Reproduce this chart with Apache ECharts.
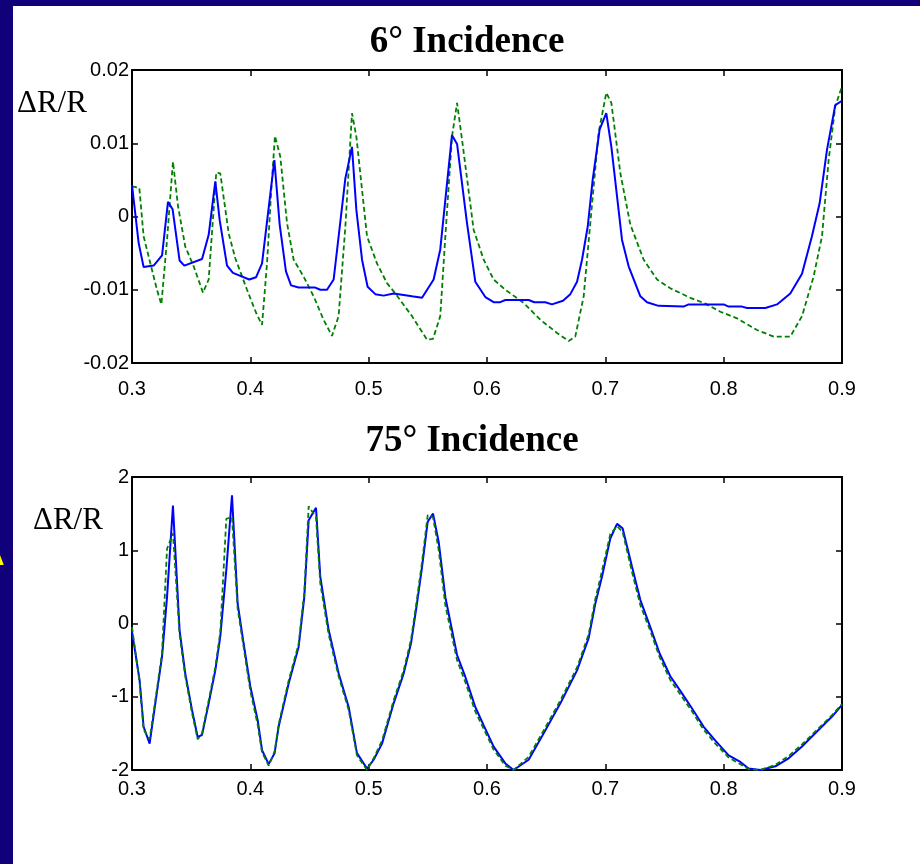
<!DOCTYPE html>
<html>
<head>
<meta charset="utf-8">
<script src="https://cdn.jsdelivr.net/npm/echarts@6/dist/echarts.min.js"></script>
<style>
html,body{margin:0;padding:0;background:#fff;}
#chart{width:920px;height:864px;}
</style>
</head>
<body>
<div id="chart"></div>
<script>
// ---------- DATA ----------
const titles = ['6\u00b0 Incidence', '75\u00b0 Incidence'];
const yLabel = '\u0394R/R';
const xTicks = [0.3, 0.4, 0.5, 0.6, 0.7, 0.8, 0.9];
const yTicksTop = [-0.02, -0.01, 0, 0.01, 0.02];
const yTicksBottom = [-2, -1, 0, 1, 2];

// 6 deg incidence: blue solid
const blue6 = [[0.3,0.0043],[0.3056,-0.0036],[0.3098,-0.0069],[0.3183,-0.0067],[0.3254,-0.0053],[0.3304,0.0020],[0.3343,0.0010],[0.3402,-0.0060],[0.3442,-0.0067],[0.3592,-0.0058],[0.3648,-0.0025],[0.3704,0.0048],[0.3741,-0.0005],[0.3803,-0.0067],[0.3853,-0.0077],[0.3991,-0.0086],[0.4048,-0.0083],[0.4099,-0.0064],[0.4203,0.0077],[0.4248,-0.0011],[0.4301,-0.0075],[0.4344,-0.0094],[0.4408,-0.0097],[0.4549,-0.0097],[0.4591,-0.0100],[0.4648,-0.0100],[0.4704,-0.0086],[0.4803,0.0052],[0.4859,0.0095],[0.4896,0.0009],[0.4944,-0.0059],[0.4991,-0.0096],[0.5056,-0.0106],[0.5126,-0.0108],[0.5211,-0.0105],[0.5366,-0.0109],[0.5451,-0.0111],[0.5549,-0.0086],[0.5605,-0.0045],[0.5662,0.0045],[0.5704,0.0111],[0.5747,0.0099],[0.5831,-0.0009],[0.5901,-0.0089],[0.5986,-0.0110],[0.6056,-0.0117],[0.6112,-0.0117],[0.6155,-0.0114],[0.6352,-0.0114],[0.6400,-0.0117],[0.6493,-0.0117],[0.6549,-0.0120],[0.6642,-0.0115],[0.6704,-0.0106],[0.6761,-0.0089],[0.6803,-0.0059],[0.6851,-0.0014],[0.6893,0.0050],[0.6952,0.0119],[0.7008,0.0141],[0.7051,0.0095],[0.7141,-0.0032],[0.7197,-0.0068],[0.7296,-0.0109],[0.7352,-0.0117],[0.7450,-0.0122],[0.7661,-0.0123],[0.7704,-0.0120],[0.8000,-0.0120],[0.8042,-0.0123],[0.8155,-0.0123],[0.8197,-0.0125],[0.8352,-0.0125],[0.8451,-0.0120],[0.8563,-0.0105],[0.8662,-0.0078],[0.8746,-0.0027],[0.8811,0.0018],[0.8873,0.0091],[0.8943,0.0152],[0.9,0.0158]];

// 6 deg incidence: green dashed
const green6 = [[0.3,0.0041],[0.3062,0.0039],[0.3098,-0.0027],[0.3155,-0.0064],[0.3211,-0.0100],[0.3248,-0.0120],[0.3296,-0.0032],[0.3346,0.0075],[0.3389,0.0014],[0.3450,-0.0041],[0.3521,-0.0068],[0.3600,-0.0104],[0.3648,-0.0086],[0.3712,0.0060],[0.3746,0.0059],[0.3817,-0.0023],[0.3873,-0.0057],[0.3972,-0.0100],[0.4050,-0.0132],[0.4099,-0.0148],[0.4141,-0.0064],[0.4177,0.0036],[0.4208,0.0110],[0.4253,0.0082],[0.4310,-0.0009],[0.4366,-0.0059],[0.4450,-0.0082],[0.4535,-0.0109],[0.4619,-0.0141],[0.4690,-0.0163],[0.4746,-0.0136],[0.4803,-0.0014],[0.4859,0.0141],[0.4896,0.0109],[0.4986,-0.0027],[0.5070,-0.0064],[0.5155,-0.0091],[0.5225,-0.0105],[0.5366,-0.0136],[0.5493,-0.0168],[0.5544,-0.0167],[0.5605,-0.0136],[0.5648,-0.0027],[0.5704,0.0109],[0.5747,0.0155],[0.5789,0.0105],[0.5887,-0.0018],[0.5972,-0.0059],[0.6056,-0.0086],[0.6155,-0.0100],[0.6310,-0.0118],[0.6451,-0.0141],[0.6592,-0.0159],[0.6690,-0.0170],[0.6746,-0.0164],[0.6817,-0.0109],[0.6873,-0.0009],[0.6943,0.0114],[0.7008,0.0169],[0.7051,0.0155],[0.7127,0.0059],[0.7211,-0.0011],[0.7324,-0.0059],[0.7437,-0.0086],[0.7549,-0.0098],[0.7718,-0.0111],[0.7845,-0.0119],[0.7972,-0.0130],[0.8113,-0.0139],[0.8282,-0.0155],[0.8423,-0.0164],[0.8563,-0.0164],[0.8662,-0.0136],[0.8760,-0.0082],[0.8831,-0.0027],[0.8887,0.0077],[0.8943,0.0150],[0.9,0.0178]];

// 75 deg incidence: blue solid
const blue75 = [[0.3,-0.11],[0.3064,-0.77],[0.3098,-1.41],[0.3149,-1.64],[0.3197,-1.09],[0.3254,-0.45],[0.3296,0.36],[0.3346,1.61],[0.3402,-0.09],[0.3450,-0.68],[0.3507,-1.18],[0.3555,-1.55],[0.3592,-1.52],[0.3648,-1.09],[0.3704,-0.64],[0.3746,-0.18],[0.3797,0.73],[0.3845,1.75],[0.3893,0.27],[0.3943,-0.27],[0.4000,-0.86],[0.4062,-1.32],[0.4099,-1.73],[0.4155,-1.92],[0.4205,-1.77],[0.4239,-1.41],[0.4324,-0.82],[0.4408,-0.32],[0.4456,0.36],[0.4493,1.41],[0.4555,1.58],[0.4591,0.64],[0.4662,-0.09],[0.4746,-0.68],[0.4831,-1.14],[0.4901,-1.77],[0.4986,-1.98],[0.5042,-1.86],[0.5113,-1.64],[0.5211,-1.09],[0.5296,-0.68],[0.5358,-0.27],[0.5408,0.27],[0.5451,0.77],[0.5499,1.39],[0.5544,1.50],[0.5592,1.11],[0.5648,0.36],[0.5747,-0.43],[0.5817,-0.73],[0.5901,-1.14],[0.5972,-1.39],[0.6056,-1.68],[0.6155,-1.91],[0.6225,-2.00],[0.6352,-1.86],[0.6479,-1.50],[0.6620,-1.09],[0.6761,-0.64],[0.6859,-0.20],[0.6915,0.27],[0.6972,0.64],[0.7042,1.16],[0.7099,1.36],[0.7146,1.30],[0.7226,0.77],[0.7296,0.32],[0.7380,-0.05],[0.7459,-0.41],[0.7549,-0.72],[0.7634,-0.92],[0.7733,-1.16],[0.7831,-1.41],[0.7930,-1.60],[0.8042,-1.80],[0.8141,-1.89],[0.8211,-1.98],[0.8310,-2.00],[0.8437,-1.95],[0.8549,-1.84],[0.8662,-1.68],[0.8803,-1.45],[0.8916,-1.27],[0.9,-1.11]];

// 75 deg incidence: green dashed
const green75 = [[0.3,-0.05],[0.3064,-0.80],[0.3098,-1.45],[0.3149,-1.58],[0.3197,-1.05],[0.3254,-0.40],[0.3296,1.02],[0.3346,1.23],[0.3402,-0.15],[0.3450,-0.72],[0.3507,-1.22],[0.3555,-1.58],[0.3592,-1.50],[0.3648,-1.05],[0.3704,-0.60],[0.3746,-0.12],[0.3797,1.43],[0.3845,1.45],[0.3893,0.20],[0.3943,-0.32],[0.4000,-0.92],[0.4062,-1.38],[0.4099,-1.76],[0.4155,-1.94],[0.4205,-1.75],[0.4239,-1.38],[0.4324,-0.78],[0.4408,-0.28],[0.4456,0.42],[0.4493,1.60],[0.4555,1.45],[0.4591,0.55],[0.4662,-0.15],[0.4746,-0.72],[0.4831,-1.18],[0.4901,-1.80],[0.4986,-2.00],[0.5042,-1.84],[0.5113,-1.60],[0.5211,-1.05],[0.5296,-0.64],[0.5358,-0.22],[0.5408,0.33],[0.5451,0.84],[0.5499,1.48],[0.5544,1.45],[0.5592,1.00],[0.5648,0.25],[0.5747,-0.50],[0.5817,-0.80],[0.5901,-1.20],[0.5972,-1.44],[0.6056,-1.72],[0.6155,-1.94],[0.6225,-2.00],[0.6352,-1.82],[0.6479,-1.46],[0.6620,-1.05],[0.6761,-0.60],[0.6859,-0.15],[0.6915,0.33],[0.6972,0.72],[0.7042,1.22],[0.7099,1.33],[0.7146,1.25],[0.7226,0.70],[0.7296,0.25],[0.7380,-0.10],[0.7459,-0.46],[0.7549,-0.77],[0.7634,-0.97],[0.7733,-1.20],[0.7831,-1.45],[0.7930,-1.64],[0.8042,-1.83],[0.8141,-1.92],[0.8211,-1.99],[0.8310,-2.00],[0.8437,-1.93],[0.8549,-1.81],[0.8662,-1.65],[0.8803,-1.43],[0.8916,-1.25],[0.9,-1.10]];

// ---------- CHART ----------
const chart = echarts.init(document.getElementById('chart'), null, {renderer: 'canvas'});
const NAVY = '#10007a';
const LABEL_FONT = '"Liberation Sans", Arial, sans-serif';
const SERIF = '"Liberation Serif", "Times New Roman", serif';

const grids = [
  {left: 132, top: 70, width: 710, height: 293},
  {left: 132, top: 477, width: 710, height: 293}
];

function xAx(gi, pos, showLabel, margin) {
  return {
    type: 'value', gridIndex: gi, position: pos,
    min: xTicks[0], max: xTicks[xTicks.length - 1], interval: 0.1,
    axisLine: {show: true, onZero: false, lineStyle: {color: '#000', width: 2}},
    axisTick: {show: true, inside: true, length: 6, lineStyle: {color: '#000', width: 1.5}},
    axisLabel: {show: showLabel, margin: margin, color: '#000', fontSize: 20, fontFamily: LABEL_FONT,
      formatter: v => v.toFixed(1)},
    splitLine: {show: false}
  };
}
function yAx(gi, pos, showLabel, ticks, fmt) {
  return {
    type: 'value', gridIndex: gi, position: pos,
    min: ticks[0], max: ticks[ticks.length - 1], interval: ticks[1] - ticks[0],
    axisLine: {show: true, onZero: false, lineStyle: {color: '#000', width: 2}},
    axisTick: {show: true, inside: true, length: 6, lineStyle: {color: '#000', width: 1.5}},
    axisLabel: {show: showLabel, margin: 3, color: '#000', fontSize: 20, fontFamily: LABEL_FONT,
      formatter: fmt},
    splitLine: {show: false}
  };
}
const fmtTop = v => {
  const r = Math.round(v * 100) / 100;
  return r === 0 ? '0' : r.toFixed(2);
};
const fmtBot = v => String(Math.round(v));

function lineSeries(xi, yi, data, color, dashed) {
  return {
    type: 'line', xAxisIndex: xi, yAxisIndex: yi, data: data,
    showSymbol: false, symbol: 'none', smooth: false, clip: false,
    lineStyle: {color: color, width: dashed ? 1.8 : 2, type: dashed ? [5, 3] : 'solid'},
    emphasis: {disabled: true}
  };
}

const option = {
  backgroundColor: '#ffffff',
  animation: false,
  grid: grids,
  xAxis: [
    xAx(0, 'bottom', true, 16), xAx(0, 'top', false, 8),
    xAx(1, 'bottom', true, 9), xAx(1, 'top', false, 8)
  ],
  yAxis: [
    yAx(0, 'left', true, yTicksTop, fmtTop), yAx(0, 'right', false, yTicksTop, fmtTop),
    yAx(1, 'left', true, yTicksBottom, fmtBot), yAx(1, 'right', false, yTicksBottom, fmtBot)
  ],
  series: [
    lineSeries(0, 0, green6, '#008000', true),
    lineSeries(0, 0, blue6, '#0000ff', false),
    lineSeries(2, 2, blue75, '#0000ff', false),
    lineSeries(2, 2, green75, '#008000', true)
  ],
  graphic: [
    {type: 'rect', left: 0, top: 0, shape: {width: 13, height: 864}, style: {fill: NAVY}, silent: true},
    {type: 'rect', left: 0, top: 0, shape: {width: 920, height: 6}, style: {fill: NAVY}, silent: true},
    {type: 'text', x: -10, y: 548, style: {text: '\u0394', fill: '#ffff00', font: 'bold 22px ' + SERIF}, silent: true},
    {type: 'text', x: 467, y: 42, style: {text: titles[0], fill: '#000', font: 'bold 37px ' + SERIF, textAlign: 'center', textVerticalAlign: 'middle'}, silent: true},
    {type: 'text', x: 472, y: 441, style: {text: titles[1], fill: '#000', font: 'bold 37px ' + SERIF, textAlign: 'center', textVerticalAlign: 'middle'}, silent: true},
    {type: 'text', x: 17, y: 104, style: {text: yLabel, fill: '#000', font: '31px ' + SERIF, textAlign: 'left', textVerticalAlign: 'middle'}, silent: true},
    {type: 'text', x: 33, y: 521, style: {text: yLabel, fill: '#000', font: '31px ' + SERIF, textAlign: 'left', textVerticalAlign: 'middle'}, silent: true}
  ]
};
chart.setOption(option);
</script>
</body>
</html>
